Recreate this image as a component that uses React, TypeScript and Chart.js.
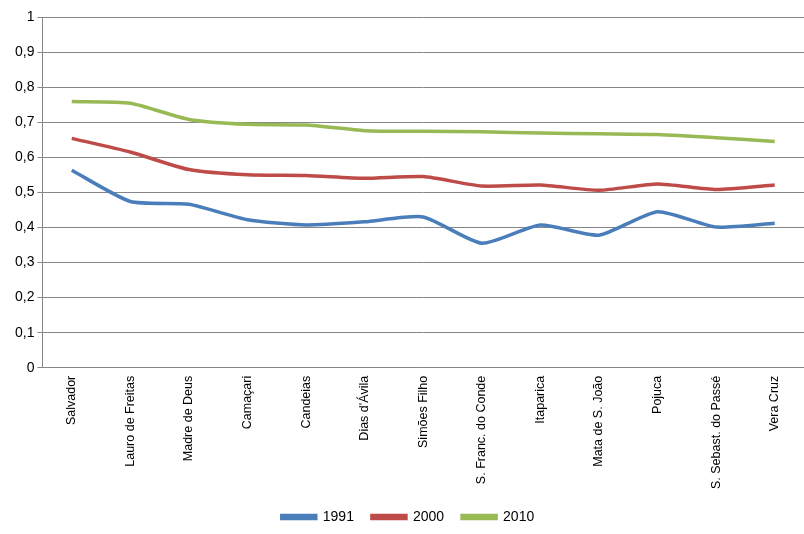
import { useEffect, useRef } from "react";
import { Chart, registerables } from "chart.js";
Chart.register(...registerables);

const categories = [
  "Salvador", "Lauro de Freitas", "Madre de Deus", "Camaçari", "Candeias", "Dias d'Ávila",
  "Simões Filho", "S. Franc. do Conde", "Itaparica", "Mata de S. João", "Pojuca",
  "S. Sebast. do Passé", "Vera Cruz",
];
const v1991 = [0.563, 0.474, 0.466, 0.422, 0.407, 0.416, 0.43, 0.355, 0.407, 0.378, 0.445, 0.401, 0.412];
const v2000 = [0.654, 0.615, 0.565, 0.55, 0.548, 0.54, 0.545, 0.518, 0.521, 0.506, 0.524, 0.508, 0.521];
const v2010 = [0.759, 0.754, 0.708, 0.694, 0.692, 0.676, 0.674, 0.673, 0.669, 0.667, 0.665, 0.656, 0.645];

const App = () => {
  const ref = useRef<HTMLCanvasElement>(null);
  useEffect(() => {
    if (!ref.current) return;
    const font = { family: "Liberation Sans", size: 14 };
    const xfont = { family: "Liberation Sans", size: 12.5 };
    const mk = (label: string, data: number[], color: string) => ({
      label, data, borderColor: color, backgroundColor: color,
      borderWidth: 3.5, pointRadius: 0, tension: 0.2,
    });
    const chart = new Chart(ref.current, {
      type: "line",
      data: {
        labels: categories,
        datasets: [mk("1991", v1991, "#4a7ebb"), mk("2000", v2000, "#be4b48"), mk("2010", v2010, "#98b954")],
      },
      options: {
        animation: false,
        responsive: false,
        layout: { padding: { top: 17, right: 0, left: 12, bottom: 0 } },
        plugins: {
          legend: {
            position: "bottom",
            labels: { font, color: "#000", boxWidth: 34, boxHeight: 3, padding: 18 },
          },
          tooltip: { enabled: false },
        },
        scales: {
          x: {
            offset: true,
            grid: { display: false, drawTicks: true, tickLength: 5 },
            border: { color: "#868686" },
            ticks: { font: xfont, color: "#000", minRotation: 90, maxRotation: 90, autoSkip: false },
          },
          y: {
            min: 0, max: 1,
            grid: { color: "#868686", tickLength: 5 },
            border: { color: "#868686" },
            ticks: {
              stepSize: 0.1, font, color: "#000",
              callback: (v) => (Math.round(Number(v) * 10) / 10).toString().replace(".", ","),
            },
          },
        },
      },
    });
    return () => chart.destroy();
  }, []);
  return <canvas ref={ref} width={804} height={534} style={{ position: "absolute", left: 0, top: 0 }} />;
};

export default App;
